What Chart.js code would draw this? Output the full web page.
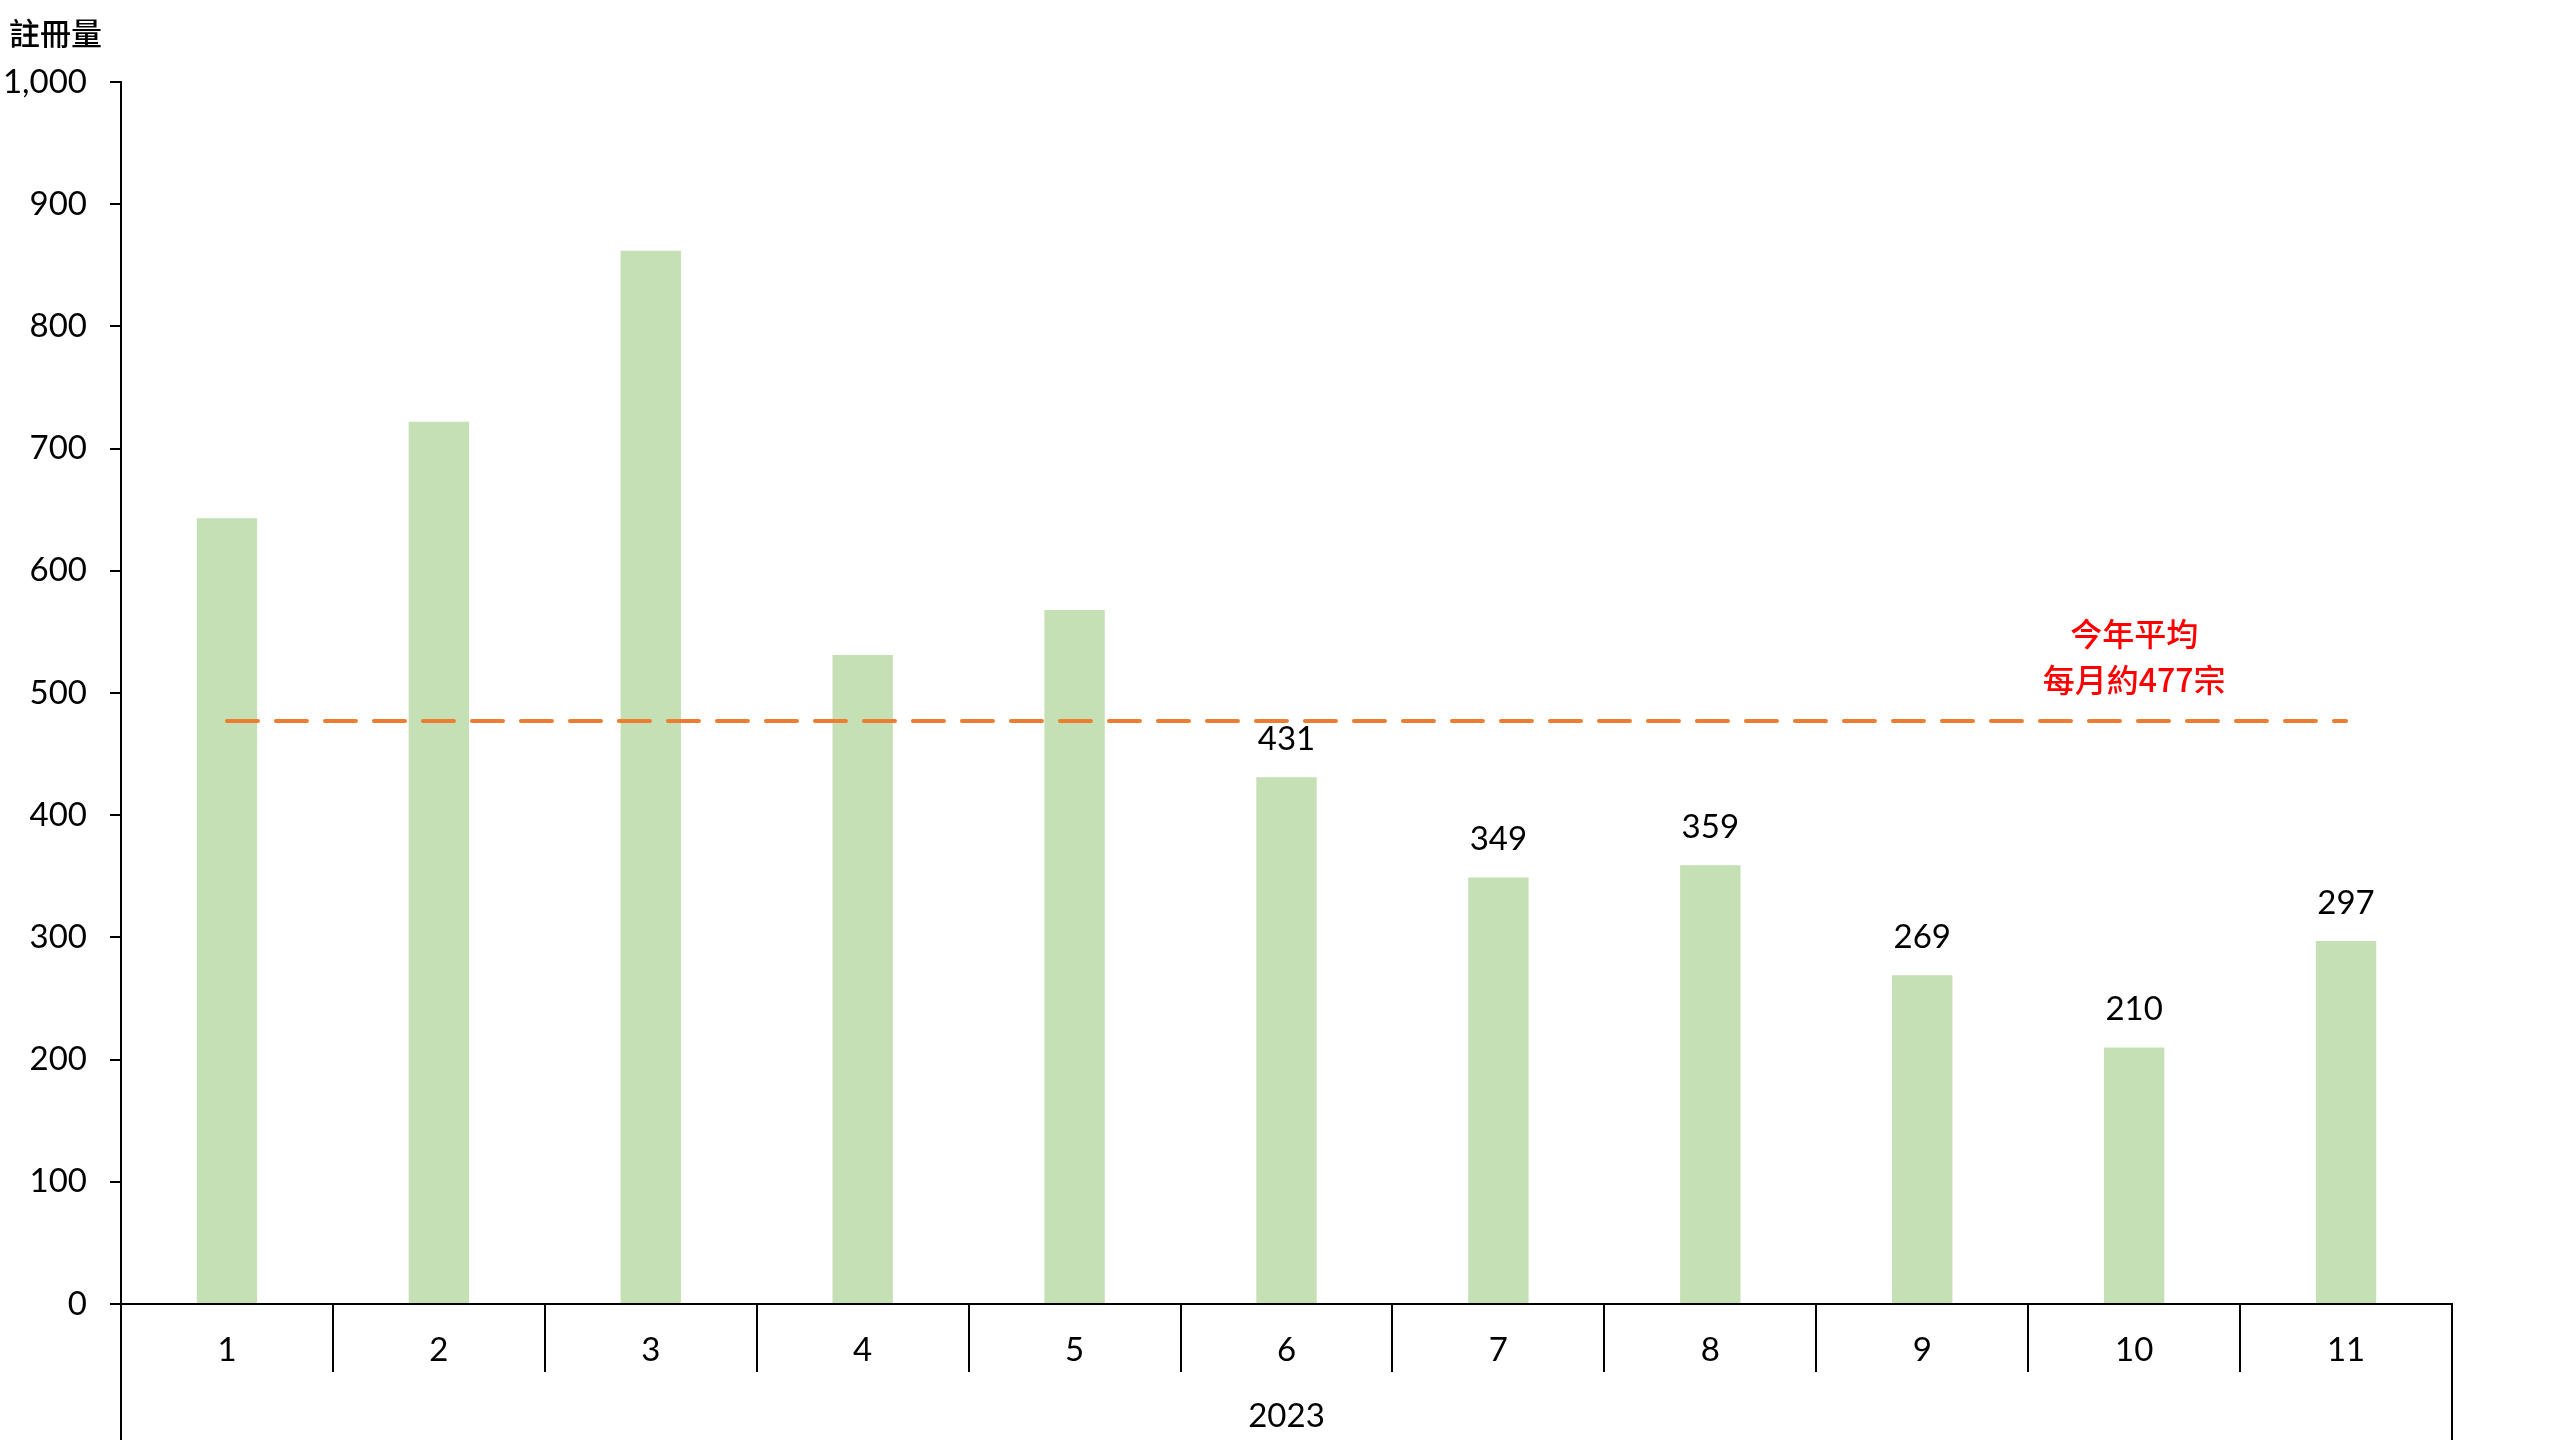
<!DOCTYPE html>
<html>
<head>
<meta charset="utf-8">
<title>註冊量</title>
<script src="https://cdn.jsdelivr.net/npm/chart.js@4"></script>
<style>
  html, body { margin: 0; padding: 0; background: #fff; }
  #wrap { width: 2560px; height: 1440px; position: relative; }
</style>
</head>
<body>
<div id="wrap"><canvas id="myChart"></canvas></div>
<script>
// data
const months = ['1', '2', '3', '4', '5', '6', '7', '8', '9', '10', '11'];
const registrations = [643, 722, 862, 531, 568, 431, 349, 359, 269, 210, 297];
const averageLine = [477, 477, 477, 477, 477, 477, 477, 477, 477, 477, 477];
const showValue = [false, false, false, false, false, true, true, true, true, true, true];
const yearLabels = ['2023'];
const yTitle = '註冊量';
const noteLines = ['今年平均', '每月約477宗'];
const noteMonth = '10';
const yTicks = [0, 100, 200, 300, 400, 500, 600, 700, 800, 900, 1000];

const numFont = 'Lato, "Noto Sans", sans-serif';
const cjkFont = '"Noto Sans CJK TC", "Noto Sans CJK SC", sans-serif';

// titre, valeurs au-dessus des barres, note rouge
const extraText = {
    id: 'extraText',
    afterDatasetsDraw(chart) {
        const ctx = chart.ctx;
        const xs = chart.scales.x;
        const ys = chart.scales.y;
        ctx.save();

        ctx.fillStyle = '#000';
        ctx.font = '500 31px ' + cjkFont;
        ctx.textAlign = 'left';
        ctx.textBaseline = 'middle';
        ctx.fillText(yTitle, 9, 33);

        const bars = chart.getDatasetMeta(0).data;
        ctx.font = '33px ' + numFont;
        ctx.textAlign = 'center';
        bars.forEach((bar, i) => {
            if (!showValue[i]) return;
            ctx.fillText(String(registrations[i]), bar.x, bar.y - 38);
        });

        const nx = xs.getPixelForValue(months.indexOf(noteMonth));
        const ny = ys.getPixelForValue(averageLine[0]);
        ctx.fillStyle = '#FF0000';
        ctx.font = '500 32px ' + cjkFont;
        ctx.fillText(noteLines[0], nx, ny - 87);
        ctx.fillText(noteLines[1], nx, ny - 41);
        ctx.restore();
    }
};

const data = {
    labels: months,
    datasets: [
        {
            type: 'bar',
            label: yTitle,
            data: registrations,
            backgroundColor: '#C5E0B4',
            barPercentage: 0.285,
            categoryPercentage: 1,
            order: 1
        },
        {
            type: 'line',
            label: '平均',
            data: averageLine,
            borderColor: '#ED7D31',
            borderWidth: 4,
            borderDash: [31, 18],
            borderCapStyle: 'round',
            pointRadius: 0,
            fill: false,
            order: 0
        }
    ]
};

const config = {
    type: 'bar',
    data: data,
    options: {
        responsive: true,
        maintainAspectRatio: false,
        devicePixelRatio: 1,
        animation: false,
        layout: { padding: { top: 82, right: 108, bottom: 0, left: 0 } },
        plugins: {
            legend: { display: false },
            tooltip: { enabled: false }
        },
        scales: {
            x: {
                type: 'category',
                weight: 0,
                offset: true,
                grid: {
                    offset: true,
                    drawOnChartArea: false,
                    drawTicks: true,
                    tickLength: 68,
                    color: '#000',
                    lineWidth: 2
                },
                border: { display: true, color: '#000', width: 2 },
                ticks: {
                    color: '#000',
                    font: { family: numFont, size: 33 },
                    padding: -41,
                    maxRotation: 0,
                    autoSkip: false
                },
                afterFit: (scale) => { scale.height = 68; }
            },
            x2: {
                type: 'category',
                position: 'bottom',
                weight: 1,
                labels: yearLabels,
                offset: true,
                grid: {
                    offset: true,
                    drawOnChartArea: false,
                    drawTicks: true,
                    tickLength: 68,
                    color: '#000',
                    lineWidth: 2
                },
                border: { display: false },
                ticks: {
                    color: '#000',
                    font: { family: numFont, size: 33 },
                    padding: -43,
                    maxRotation: 0
                },
                afterFit: (scale) => { scale.height = 68; }
            },
            y: {
                min: 0,
                max: 1000,
                afterBuildTicks: (scale) => { scale.ticks = yTicks.map(v => ({ value: v })); },
                grid: {
                    drawOnChartArea: false,
                    drawTicks: true,
                    tickLength: 11,
                    color: '#000',
                    lineWidth: 2
                },
                border: { display: true, color: '#000', width: 2 },
                ticks: {
                    color: '#000',
                    font: { family: numFont, size: 33 },
                    padding: 23,
                    callback: (v) => v.toLocaleString('en-US')
                },
                afterFit: (scale) => { scale.width = 121; }
            }
        }
    },
    plugins: [extraText]
};

const myChart = new Chart(document.getElementById('myChart'), config);
</script>
</body>
</html>
